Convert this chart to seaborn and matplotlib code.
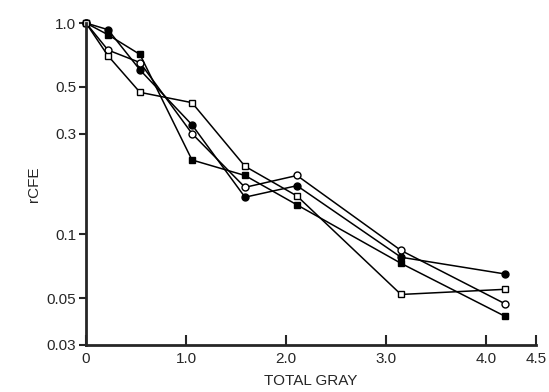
import numpy as np
import pandas as pd
import matplotlib
matplotlib.use("Agg")
import matplotlib.pyplot as plt
import seaborn as sns

dose = [0, 0.22, 0.54, 1.06, 1.59, 2.11, 3.15, 4.19]

filled_circle = [1.0, 0.93, 0.60, 0.33, 0.15, 0.17, 0.078, 0.065]
open_circle = [1.0, 0.745, 0.65, 0.30, 0.167, 0.19, 0.084, 0.047]
filled_square = [1.0, 0.88, 0.71, 0.225, 0.19, 0.138, 0.073, 0.041]
open_square = [1.0, 0.70, 0.47, 0.42, 0.21, 0.152, 0.052, 0.055]

yticks = [0.03, 0.05, 0.1, 0.3, 0.5, 1.0]
ytick_labels = ["0.03", "0.05", "0.1", "0.3", "0.5", "1.0"]
xticks = [0, 1, 2, 3, 4, 4.5]
xtick_labels = ["0", "1.0", "2.0", "3.0", "4.0", "4.5"]

sns.set_style("ticks")
plt.rcParams['font.family'] = ['Liberation Sans', 'DejaVu Sans']

fig = plt.figure(figsize=(5.49, 3.92), dpi=100)
ax = fig.add_axes([0.1566, 0.12, 0.8197, 0.8213])

series = [
    (filled_circle, "o", "black"),
    (open_circle, "o", "white"),
    (filled_square, "s", "black"),
    (open_square, "s", "white"),
]
for vals, mk, face in series:
    df = pd.DataFrame({"dose": dose, "rcfe": vals})
    sns.lineplot(data=df, x="dose", y="rcfe", ax=ax, sort=False, color="black",
                 linewidth=1.1, marker=mk, markersize=5, markerfacecolor=face,
                 markeredgecolor="black", markeredgewidth=1.0, clip_on=False)

ax.set_yscale("log")
ax.set_ylim(0.03, 1.0)
ax.set_xlim(0, 4.5)
ax.set_yticks(yticks)
ax.set_yticklabels(ytick_labels)
ax.yaxis.set_minor_locator(matplotlib.ticker.NullLocator())
ax.set_xticks(xticks)
ax.set_xticklabels(xtick_labels)

ax.tick_params(axis="y", direction="out", length=5, width=1.5, labelsize=11, pad=2)
ax.tick_params(axis="x", direction="in", length=7, width=1.5, labelsize=11, pad=5)

for side in ["top", "right"]:
    ax.spines[side].set_visible(False)
for side in ["left", "bottom"]:
    ax.spines[side].set_linewidth(2)

ax.set_xlabel("TOTAL GRAY", fontsize=11, labelpad=6)
ax.set_ylabel("rCFE", fontsize=11, labelpad=4)

fig.savefig("out.png", dpi=100)
